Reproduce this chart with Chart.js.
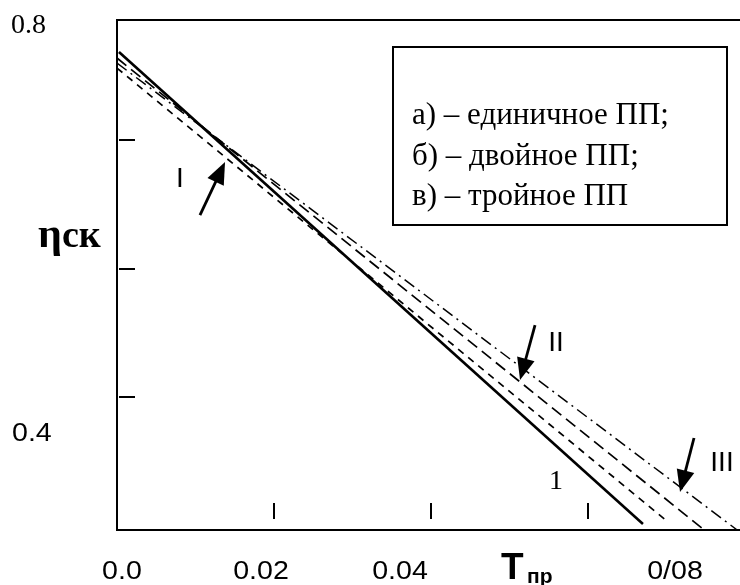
<!DOCTYPE html>
<html><head><meta charset="utf-8">
<script src="https://cdn.jsdelivr.net/npm/chart.js@4.4.1/dist/chart.umd.min.js"></script>
<style>html,body{margin:0;padding:0;background:#fff}#wrap{width:740px;height:585px;position:relative}</style>
</head><body><div id="wrap"><canvas id="c" width="740" height="585"></canvas></div>
<script>
// ---- data ----
const curve1X   = [0.00025, 0.0670];
const curve1Y   = [0.7685, 0.4012];
const curveIX   = [0.0, 0.0702];
const curveIY   = [0.7560, 0.4027];
const curveIIX  = [0.0, 0.07465];
const curveIIY  = [0.7638, 0.3973];
const curveIIIX = [0.0, 0.0790];
const curveIIIY = [0.7599, 0.3965];

const xMinorTicks = [0.02, 0.04, 0.06];
const yMinorTicks = [0.5, 0.6, 0.7];
const xTickLabels = ['0.0', '0.02', '0.04', '0/08'];
const yTickLabels = ['0.8', '0.4'];
const legendLines = ['а) – единичное ПП;', 'б) – двойное ПП;', 'в) – тройное ПП'];
const curveLabels = ['1', 'I', 'II', 'III'];
// arrows: [tailX, tailY, tipX, tipY] in data units
const arrowI   = [0.01057, 0.6416, 0.01376, 0.6829];
const arrowII  = [0.05325, 0.5560, 0.05134, 0.5132];
const arrowIII = [0.07350, 0.4681, 0.07172, 0.4261];

const pts = (xs, ys) => xs.map((v, i) => ({x: v, y: ys[i]}));

const annot = {
  id: 'annot',
  afterDatasetsDraw(chart) {
    const {ctx, chartArea: a, scales: {x, y}} = chart;
    ctx.save();
    ctx.strokeStyle = '#000'; ctx.fillStyle = '#000';
    // inner tick marks
    ctx.lineWidth = 2;
    yMinorTicks.forEach(v => {
      const py = Math.round(y.getPixelForValue(v));
      ctx.beginPath(); ctx.moveTo(a.left + 2, py); ctx.lineTo(a.left + 18, py); ctx.stroke();
    });
    xMinorTicks.forEach(v => {
      const px = Math.round(x.getPixelForValue(v));
      ctx.beginPath(); ctx.moveTo(px, a.bottom - 27); ctx.lineTo(px, a.bottom - 11); ctx.stroke();
    });
    // arrows
    [arrowI, arrowII, arrowIII].forEach(ar => {
      const tx = x.getPixelForValue(ar[0]), ty = y.getPixelForValue(ar[1]);
      const hx = x.getPixelForValue(ar[2]), hy = y.getPixelForValue(ar[3]);
      const dx = hx - tx, dy = hy - ty, L = Math.hypot(dx, dy);
      const ux = dx / L, uy = dy / L, hl = 22, hw = 9;
      const bx = hx - ux * hl, by = hy - uy * hl;
      ctx.lineWidth = 2.8;
      ctx.beginPath(); ctx.moveTo(tx, ty); ctx.lineTo(bx + ux * 2, by + uy * 2); ctx.stroke();
      ctx.beginPath(); ctx.moveTo(hx, hy);
      ctx.lineTo(bx - uy * hw, by + ux * hw);
      ctx.lineTo(bx + uy * hw, by - ux * hw);
      ctx.closePath(); ctx.fill();
    });
    // text helper
    const txt = (s, font, px, py, align, sx) => {
      ctx.save(); ctx.font = font; ctx.textAlign = align || 'left'; ctx.textBaseline = 'alphabetic';
      ctx.translate(px, py); if (sx) ctx.scale(sx, 1);
      ctx.fillText(s, 0, 0); ctx.restore();
    };
    // y tick labels
    txt(yTickLabels[0], '28px "Liberation Serif"', 11, 33, 'left');
    txt(yTickLabels[1], '26px "Liberation Sans"', 12, 441, 'left', 1.1);
    // x tick labels
    const xl = [122, 261, 400, 675];
    xTickLabels.forEach((s, i) => txt(s, '26px "Liberation Sans"', xl[i], 579, 'center', 1.1));
    // axis titles
    txt('T', 'bold 37px "Liberation Sans"', 501, 579, 'left');
    txt('пр', 'bold 21px "Liberation Sans"', 527, 583, 'left');
    txt('η', 'bold 42px "Liberation Serif"', 38, 247, 'left');
    txt('ск', 'bold 38px "Liberation Serif"', 62, 247, 'left');
    // curve labels
    txt(curveLabels[0], '28px "Liberation Serif"', 556, 489, 'center');
    txt(curveLabels[1], '28px "Liberation Sans"', 180, 187, 'center');
    txt(curveLabels[2], '28px "Liberation Sans"', 556, 351, 'center');
    txt(curveLabels[3], '28px "Liberation Sans"', 722, 471, 'center');
    // legend box
    ctx.lineWidth = 2;
    ctx.strokeRect(393, 47, 334, 178);
    legendLines.forEach((s, i) => txt(s, '31px "Liberation Serif"', 412, 124 + i * 40.5, 'left'));
    ctx.restore();
  }
};

const axisBase = {
  type: 'linear',
  grid: {display: false},
  ticks: {display: false},
  border: {display: true, color: '#000', width: 2}
};

new Chart(document.getElementById('c'), {
  type: 'line',
  data: {
    datasets: [
      {label: curveLabels[0], data: pts(curve1X, curve1Y), borderColor: '#000', borderWidth: 2.6, pointRadius: 0, tension: 0},
      {label: curveLabels[1], data: pts(curveIX, curveIY), borderColor: '#000', borderWidth: 1.7, borderDash: [7, 6], pointRadius: 0, tension: 0},
      {label: curveLabels[2], data: pts(curveIIX, curveIIY), borderColor: '#000', borderWidth: 1.7, borderDash: [12, 6], pointRadius: 0, tension: 0},
      {label: curveLabels[3], data: pts(curveIIIX, curveIIIY), borderColor: '#000', borderWidth: 1.5, borderDash: [12, 5, 2, 5], pointRadius: 0, tension: 0}
    ]
  },
  options: {
    responsive: false,
    animation: false,
    layout: {padding: {left: 117, top: 20, right: 0, bottom: 55}},
    plugins: {legend: {display: false}, tooltip: {enabled: false}},
    scales: {
      x: Object.assign({}, axisBase, {position: 'bottom', min: 0, max: 0.07936, afterFit: s => { s.height = 0; }}),
      x2: Object.assign({}, axisBase, {position: 'top', min: 0, max: 0.07936, afterFit: s => { s.height = 0; }}),
      y: Object.assign({}, axisBase, {position: 'left', min: 0.3965, max: 0.7934, afterFit: s => { s.width = 0; }})
    }
  },
  plugins: [annot]
});
</script>
</body></html>
